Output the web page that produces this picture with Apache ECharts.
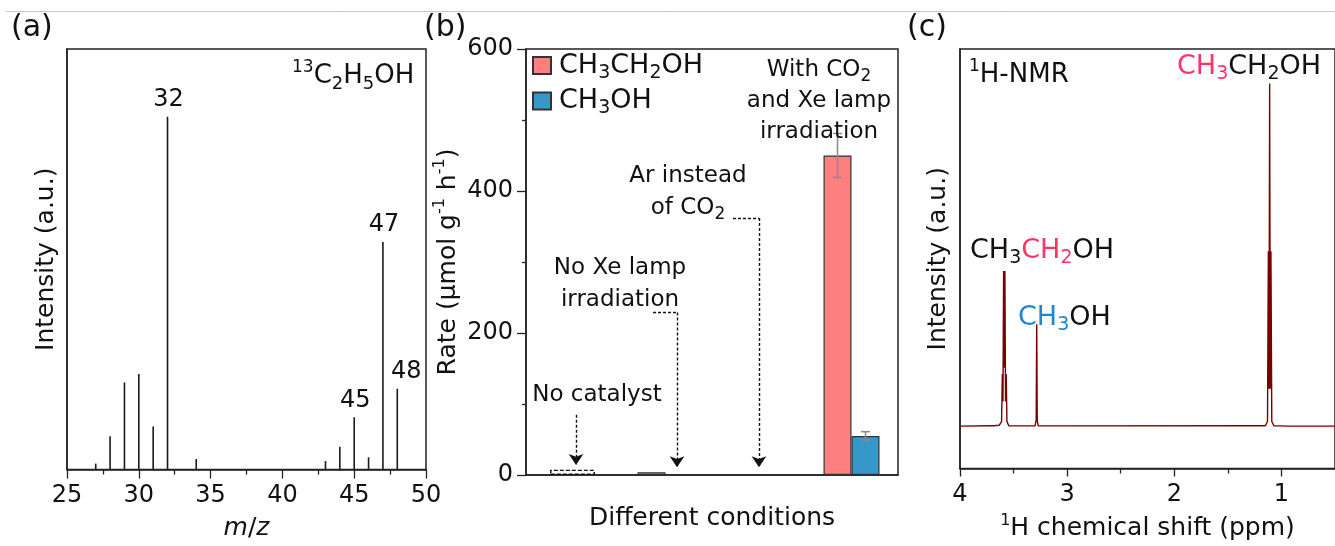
<!DOCTYPE html>
<html><head><meta charset="utf-8">
<script src="https://cdn.jsdelivr.net/npm/echarts@6/dist/echarts.min.js"></script>
<style>html,body{margin:0;padding:0;background:#fff}#c{width:1335px;height:546px}</style>
</head><body><div id="c"></div>
<script>
// ---------- Panel (a): mass spectrum ----------
const msMz = [27, 28, 29, 30, 31, 32, 34, 43, 44, 45, 46, 47, 48];
const msIntensity = [1.4, 7.9, 20.7, 22.7, 10.2, 83.9, 2.5, 2.0, 5.4, 12.4, 2.9, 54.1, 19.2];
const msLabeledPeaks = [32, 45, 47, 48];
const msTicks = [25, 30, 35, 40, 45, 50];

// ---------- Panel (b): rates ----------
const conditions = ['No catalyst', 'No Xe lamp irradiation', 'Ar instead of CO2', 'With CO2 and Xe lamp irradiation'];
const ethanolRate = [0, 4, 0, 450];
const ethanolErr = [0, 0, 0, 31];
const methanolRate = [0, 0, 0, 55];
const methanolErr = [0, 0, 0, 6];
const noCatalystBlank = [7.5, '-', '-', '-'];
const rateTicks = [0, 200, 400, 600];

// ---------- Panel (c): 1H NMR ----------
const nmrShift = [0.50, 0.95, 0.99, 1.00, 1.01, 1.07, 1.09, 1.098, 1.104, 1.110, 1.116, 1.122, 1.130, 1.15,
  1.20, 1.215, 1.23, 3.27, 3.279, 3.284, 3.289, 3.30, 3.39, 3.403, 3.415, 3.445, 3.458, 3.47,
  3.545, 3.562, 3.569, 3.575, 3.581, 3.587, 3.593, 3.599, 3.605, 3.612, 3.635, 3.685, 3.697, 3.71, 4.0];
const nmrIntensity = [0.1, 0.1, 0.15, 0.4, 0.15, 0.2, 1.2, 41.8, 9, 81.8, 9, 41.8, 1.2, 0.2,
  0.2, 0.6, 0.2, 0.15, 1.5, 24.4, 1.5, 0.15, 0.15, 0.3, 0.15, 0.15, 0.35, 0.15,
  0.2, 1.2, 12.5, 6, 37.1, 14, 37.1, 6, 12.5, 1.2, 0.3, 0.2, 0.4, 0.2, 0.1];
const nmrTicks = [1, 2, 3, 4];
const nmrMinorTicks = [1.5, 2.5, 3.5];

// ---------- styling ----------
const FF = 'DejaVu Sans';
const INK = '#111';
const AX = '#222';
const PINK = '#ff3366';
const BLUE = '#1f86d4';
const RED_BAR = '#ff8080';
const BLUE_BAR = '#3598c9';
const BAR_W = 28;

function tok(size, color, lh, va, extra) {
  const o = { fontSize: size, fontFamily: FF, fill: color, color: color, lineHeight: lh };
  if (va) o.verticalAlign = va;
  return Object.assign(o, extra || {});
}
const chemRich = {
  n: tok(27, INK, 34), ns: tok(19, INK, 18, 'bottom'),
  r: tok(27, PINK, 34), rs: tok(19, PINK, 18, 'bottom'),
  b: tok(27, BLUE, 34), bs: tok(19, BLUE, 18, 'bottom'),
  p: tok(17, INK, 22, 'top')
};
const noteRich = { n: tok(23, INK, 31.4), s: tok(17, INK, 17, 'bottom') };

function gtext(x, y, text, rich, align) {
  return { type: 'text', x: x, y: y, silent: true, z: 50,
    style: { text: text, rich: rich, textAlign: align || 'left', textVerticalAlign: 'middle',
      fill: INK, font: '24px ' + FF } };
}

const axisLineStyle = { color: AX, width: 1.5 };

const chart = echarts.init(document.getElementById('c'), null, { renderer: 'canvas' });

function errRender(sign) {
  return function (params, api) {
    const i = api.value(0), v = api.value(1), e = api.value(2);
    if (!e) return null;
    const hi = api.coord([i, v + e]);
    const lo = api.coord([i, v - e]);
    const x = hi[0] + sign * BAR_W / 2;
    const cap = 4.5;
    const st = { stroke: '#8a8a8a', lineWidth: 1.5 };
    return { type: 'group', children: [
      { type: 'line', shape: { x1: x, y1: hi[1], x2: x, y2: lo[1] }, style: st },
      { type: 'line', shape: { x1: x - cap, y1: hi[1], x2: x + cap, y2: hi[1] }, style: st },
      { type: 'line', shape: { x1: x - cap, y1: lo[1], x2: x + cap, y2: lo[1] }, style: st }
    ] };
  };
}

const option = {
  animation: false,
  backgroundColor: '#fff',
  textStyle: { fontFamily: FF, color: INK },
  grid: [
    { left: 67, top: 49, width: 359, height: 427, show: true, borderColor: AX, borderWidth: 1.5 },
    { left: 526, top: 49, width: 372, height: 426, show: true, borderColor: AX, borderWidth: 1.5 },
    { left: 960, top: 49, width: 381, height: 427, show: true, borderColor: AX, borderWidth: 1.5 }
  ],
  legend: {
    data: ['CH3CH2OH', 'CH3OH'],
    orient: 'vertical', left: 532, top: 52, padding: 0, itemGap: 5,
    icon: 'rect', itemWidth: 18, itemHeight: 17, selectedMode: false,
    formatter: function (name) {
      return name === 'CH3CH2OH' ? '{n|CH}{s|3}{n|CH}{s|2}{n|OH}' : '{n|CH}{s|3}{n|OH}';
    },
    textStyle: { padding: [0, 0, 0, 3], rich: { n: tok(27, INK, 34), s: tok(19, INK, 18, 'bottom') } }
  },
  xAxis: [
    { gridIndex: 0, type: 'value', min: msTicks[0], max: msTicks[msTicks.length - 1], interval: 5,
      axisLine: { onZero: false, lineStyle: axisLineStyle },
      axisTick: { inside: false, length: 9, lineStyle: { color: AX, width: 1.3 } },
      minorTick: { show: true, splitNumber: 2, length: 5, lineStyle: { color: AX, width: 1.3 } },
      axisLabel: { fontSize: 24, color: INK, margin: 14, fontFamily: FF },
      splitLine: { show: false }, minorSplitLine: { show: false },
      name: '{i|m}{n|/}{i|z}', nameLocation: 'middle', nameGap: 44,
      nameTextStyle: { rich: { i: tok(25, INK, 30, null, { fontStyle: 'italic' }), n: tok(25, INK, 30) } } },
    { gridIndex: 1, type: 'category', data: conditions, position: 'bottom',
      axisLine: { onZero: false, lineStyle: axisLineStyle },
      axisTick: { show: false }, axisLabel: { show: false }, splitLine: { show: false },
      name: 'Different conditions', nameLocation: 'middle', nameGap: 31,
      nameTextStyle: { fontSize: 25, color: INK, fontFamily: FF } },
    { gridIndex: 1, type: 'category', data: conditions, show: false, position: 'bottom' },
    { gridIndex: 1, type: 'value', min: 0, max: 4, show: false, position: 'bottom' },
    { gridIndex: 2, type: 'value', min: 0.5, max: 4, inverse: true, position: 'bottom',
      axisLine: { onZero: false, lineStyle: axisLineStyle },
      axisTick: { inside: false, length: 8, customValues: nmrTicks, lineStyle: { color: AX, width: 1.3 } },
      axisLabel: { fontSize: 24, color: INK, margin: 14, fontFamily: FF, customValues: nmrTicks },
      splitLine: { show: false },
      name: '{p|1}{n|H chemical shift (ppm)}', nameLocation: 'middle', nameGap: 44,
      nameTextStyle: { rich: { n: tok(25, INK, 32), p: tok(16, INK, 20, 'top') } } },
    { gridIndex: 2, type: 'value', min: 0.5, max: 4, inverse: true, position: 'bottom',
      axisLine: { show: false, onZero: false },
      axisTick: { inside: false, length: 5, customValues: nmrMinorTicks, lineStyle: { color: AX, width: 1.3 } },
      axisLabel: { show: false }, splitLine: { show: false } }
  ],
  yAxis: [
    { gridIndex: 0, type: 'value', min: 0, max: 100,
      axisLine: { show: true, onZero: false, lineStyle: axisLineStyle },
      axisTick: { show: false }, axisLabel: { show: false }, splitLine: { show: false },
      name: 'Intensity (a.u.)', nameLocation: 'middle', nameGap: 8,
      nameTextStyle: { fontSize: 25, color: INK, fontFamily: FF } },
    { gridIndex: 1, type: 'value', min: rateTicks[0], max: rateTicks[rateTicks.length - 1], interval: 200,
      axisLine: { show: true, onZero: false, lineStyle: axisLineStyle },
      axisTick: { show: true, inside: false, length: 9, lineStyle: { color: AX, width: 1.3 } },
      minorTick: { show: true, splitNumber: 2, length: 4, lineStyle: { color: AX, width: 1.3 } },
      axisLabel: { fontSize: 24, color: INK, margin: 13, fontFamily: FF },
      splitLine: { show: false }, minorSplitLine: { show: false },
      name: '{n|Rate (μmol g}{p|-1}{n| h}{p|-1}{n|)}', nameLocation: 'middle', nameGap: 62,
      nameTextStyle: { rich: { n: tok(25, INK, 32), p: tok(16, INK, 20, 'top') } } },
    { gridIndex: 2, type: 'value', min: -10, max: 90,
      axisLine: { show: true, onZero: false, lineStyle: axisLineStyle },
      axisTick: { show: false }, axisLabel: { show: false }, splitLine: { show: false },
      name: 'Intensity (a.u.)', nameLocation: 'middle', nameGap: 9,
      nameTextStyle: { fontSize: 25, color: INK, fontFamily: FF } }
  ],
  series: [
    { type: 'bar', xAxisIndex: 0, yAxisIndex: 0, barWidth: 1.6,
      itemStyle: { color: '#1a1a1a' },
      label: { show: false, position: 'top', distance: 5, fontSize: 24, color: INK, fontFamily: FF,
        formatter: function (p) { return String(p.value[0]); } },
      data: msMz.map(function (mz, i) {
        return { value: [mz, msIntensity[i]],
          label: { show: msLabeledPeaks.indexOf(mz) >= 0, offset: mz === 48 ? [9, 0] : [1, 0] } };
      }) },
    { name: 'CH3CH2OH', type: 'bar', xAxisIndex: 1, yAxisIndex: 1, barWidth: BAR_W, barGap: '0%',
      itemStyle: { color: RED_BAR, borderColor: '#333', borderWidth: 1.2 }, data: ethanolRate },
    { name: 'CH3OH', type: 'bar', xAxisIndex: 1, yAxisIndex: 1, barWidth: BAR_W, barGap: '0%',
      itemStyle: { color: BLUE_BAR, borderColor: '#333', borderWidth: 1.2 }, data: methanolRate },
    { type: 'bar', xAxisIndex: 2, yAxisIndex: 1, barWidth: 45,
      itemStyle: { color: 'rgba(255,255,255,0)', borderColor: INK, borderWidth: 1.4, borderType: [4, 2] },
      data: noCatalystBlank },
    { type: 'custom', xAxisIndex: 1, yAxisIndex: 1, z: 5, renderItem: errRender(-1),
      encode: { x: 0, y: 1 },
      data: conditions.map(function (c, i) { return [i, ethanolRate[i], ethanolErr[i]]; }) },
    { type: 'custom', xAxisIndex: 1, yAxisIndex: 1, z: 5, renderItem: errRender(1),
      encode: { x: 0, y: 1 },
      data: conditions.map(function (c, i) { return [i, methanolRate[i], methanolErr[i]]; }) },
    // dashed leader lines for annotations (annotation geometry, in axis units)
    { type: 'lines', coordinateSystem: 'cartesian2d', xAxisIndex: 3, yAxisIndex: 1, silent: true, z: 6,
      symbol: ['none', 'none'],
      lineStyle: { type: [3, 2], color: INK, width: 1.4, opacity: 1 },
      data: [ { coords: [[1.366, 229], [1.624, 229]] }, { coords: [[2.226, 362], [2.505, 362]] } ] },
    { type: 'lines', coordinateSystem: 'cartesian2d', xAxisIndex: 3, yAxisIndex: 1, silent: true, z: 6,
      symbol: ['none', 'arrow'], symbolSize: 11,
      lineStyle: { type: [3, 2], color: INK, width: 1.4, opacity: 1 },
      data: [ { coords: [[0.538, 85], [0.538, 14]] }, { coords: [[1.624, 229], [1.624, 11]] },
              { coords: [[2.505, 362], [2.505, 11]] } ] },
    { type: 'line', xAxisIndex: 4, yAxisIndex: 2, showSymbol: false, symbol: 'none', sampling: null,
      lineStyle: { color: '#7a0000', width: 1.4 }, clip: true,
      data: nmrShift.map(function (s, i) { return [s, nmrIntensity[i]]; }) }
  ],
  graphic: [
    { type: 'line', silent: true, shape: { x1: 6, y1: 11.5, x2: 1335, y2: 11.5 }, style: { stroke: '#c8c8c8', lineWidth: 1 } },
    gtext(11, 28, '{n|(a)}', { n: tok(30, INK, 36) }),
    gtext(424, 28, '{n|(b)}', { n: tok(30, INK, 36) }),
    gtext(907, 28, '{n|(c)}', { n: tok(30, INK, 36) }),
    gtext(292, 76, '{p|13}{n|C}{ns|2}{n|H}{ns|5}{n|OH}',
      { n: tok(26, INK, 34), ns: tok(18, INK, 18, 'bottom'), p: tok(17, INK, 22, 'top') }),
    gtext(597, 395, '{n|No catalyst}', noteRich, 'center'),
    gtext(620, 284, '{n|No Xe lamp}\n{n|irradiation}', noteRich, 'center'),
    gtext(688, 192, '{n|Ar instead}\n{n|of CO}{s|2}', noteRich, 'center'),
    gtext(819, 101, '{n|With CO}{s|2}\n{n|and Xe lamp}\n{n|irradiation}', noteRich, 'center'),
    gtext(969, 75, '{p|1}{n|H-NMR}', { n: tok(26, INK, 34), p: tok(17, INK, 22, 'top') }),
    gtext(1177, 67, '{r|CH}{rs|3}{n|CH}{ns|2}{n|OH}', chemRich),
    gtext(970, 251, '{n|CH}{ns|3}{r|CH}{rs|2}{n|OH}', chemRich),
    gtext(1018, 318, '{b|CH}{bs|3}{n|OH}', chemRich)
  ]
};
chart.setOption(option);
</script>
</body></html>
